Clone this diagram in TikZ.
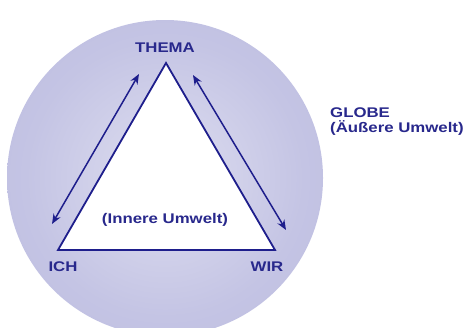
\documentclass[tikz,border=0pt]{standalone}
\usepackage{fontspec}
\setmainfont{Liberation Sans}[FakeStretch=1.2]
\usetikzlibrary{arrows.meta}
\definecolor{txtblue}{RGB}{40,40,140}
\definecolor{lineblue}{RGB}{30,30,140}
\definecolor{globein}{RGB}{222,222,240}
\definecolor{globemid}{RGB}{196,196,228}
\definecolor{globeout}{RGB}{180,180,220}
\pgfdeclareradialshading{globeshade}{\pgfpoint{0bp}{0bp}}{color(0bp)=(globein); color(22bp)=(globemid); color(50bp)=(globeout); color(100bp)=(globeout)}
\tikzset{
  lbl/.style={font=\fontsize{14}{16}\selectfont\bfseries, text=txtblue, inner sep=0pt},
  tri/.style={draw=lineblue, line width=1.8pt, fill=white, line join=miter},
  dbl/.style={draw=lineblue, line width=1.5pt, {Stealth[length=10pt,width=8pt]}-{Stealth[length=10pt,width=8pt]}}
}
\begin{document}
\begin{tikzpicture}[x=1pt,y=-1pt]
\useasboundingbox (0,0) rectangle (470,327);
\clip (0,0) rectangle (470,327);
\fill[white] (0,0) rectangle (470,327);
\shade[shading=globeshade] (165,178) circle[radius=158];
\coordinate (T) at (166,63);
\coordinate (L) at (58,250);
\coordinate (R) at (275,250);
\draw[tri] (T) -- (L) -- (R) -- cycle;
\coordinate (a1) at (52,224);
\coordinate (a2) at (139,74);
\coordinate (b1) at (193,75);
\coordinate (b2) at (286,230);
\draw[dbl] (a1) -- (a2);
\draw[dbl] (b1) -- (b2);
\node[lbl] (thema) at (165,48) {THEMA};
\node[lbl] (ich) at (63,267) {ICH};
\node[lbl] (wir) at (267,267) {WIR};
\node[lbl] (innere) at (165,220) {(Innere Umwelt)};
\node[lbl, anchor=west] (globe) at (330,113) {GLOBE};
\node[lbl, anchor=west] (aussere) at (330,128) {(Äußere Umwelt)};
\end{tikzpicture}
\end{document}
